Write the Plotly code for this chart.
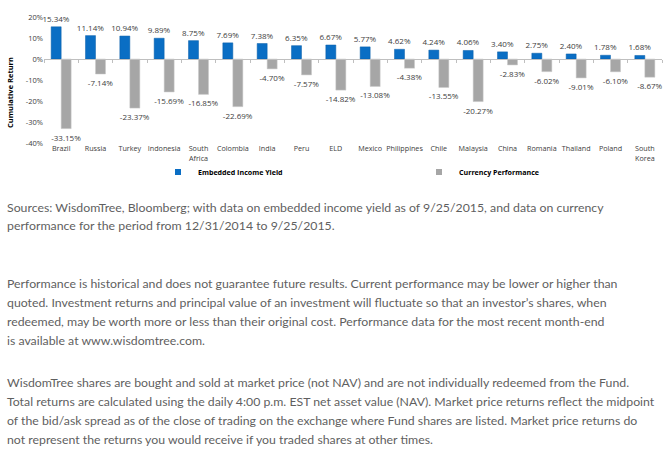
import plotly.graph_objects as go

# ---------------- data ----------------
categories = ["Brazil", "Russia", "Turkey", "Indonesia", "South<br>Africa", "Colombia",
              "India", "Peru", "ELD", "Mexico", "Philippines", "Chile", "Malaysia",
              "China", "Romania", "Thailand", "Poland", "South<br>Korea"]
embedded_income_yield = [15.34, 11.14, 10.94, 9.89, 8.75, 7.69, 7.38, 6.35, 6.67,
                         5.77, 4.62, 4.24, 4.06, 3.40, 2.75, 2.40, 1.78, 1.68]
currency_performance = [-33.15, -7.14, -23.37, -15.69, -16.85, -22.69, -4.70, -7.57, -14.82,
                        -13.08, -4.38, -13.55, -20.27, -2.83, -6.02, -9.01, -6.10, -8.67]
y_tick_values = [20, 10, 0, -10, -20, -30, -40]
y_tick_labels = ["20%", "10%", "0%", "-10%", "-20%", "-30%", "-40%"]
series_names = ["Embedded Income Yield", "Currency Performance"]
y_axis_title = "Cumulative Return"

footnote_lines = [
    "Sources: WisdomTree, Bloomberg; with data on embedded income yield as of 9/25/2015, and data on currency",
    "performance for the period from 12/31/2014 to 9/25/2015.",
    "Performance is historical and does not guarantee future results. Current performance may be lower or higher than",
    "quoted. Investment returns and principal value of an investment will fluctuate so that an investor\u2019s shares, when",
    "redeemed, may be worth more or less than their original cost. Performance data for the most recent month-end",
    "is available at www.wisdomtree.com.",
    "WisdomTree shares are bought and sold at market price (not NAV) and are not individually redeemed from the Fund.",
    "Total returns are calculated using the daily 4:00 p.m. EST net asset value (NAV). Market price returns reflect the midpoint",
    "of the bid/ask spread as of the close of trading on the exchange where Fund shares are listed. Market price returns do",
    "not represent the returns you would receive if you traded shares at other times.",
]
footnote_y_px = [207, 226, 283, 302, 321, 340, 382, 401, 420, 439]

# ---------------- layout constants ----------------
W, H = 670, 458
L, R, T, B = 44, 662, 17, 143
BLUE = "#0A6EC4"
GREY = "#A6A6A6"
TXT = "#404040"
CHART_FONT = "Open Sans, Noto Sans, sans-serif"
PARA_FONT = "Lato, Liberation Sans, sans-serif"


def px_x(px):
    return (px - L) / (R - L)


def px_y(py):
    return (B - py) / (B - T)


fig = go.Figure()
fig.add_trace(go.Bar(
    x=categories, y=embedded_income_yield, name=series_names[0],
    marker=dict(color=BLUE, line=dict(color="#0A5FA8", width=0.5)),
    texttemplate="%{y:.2f}%", textposition="outside", constraintext="none",
    textfont=dict(size=8, color=TXT, family=CHART_FONT),
    cliponaxis=False, showlegend=False,
))
fig.add_trace(go.Bar(
    x=categories, y=currency_performance, name=series_names[1],
    marker=dict(color=GREY, line=dict(color="#C8C8C8", width=0.5)),
    texttemplate="%{y:.2f}%", textposition="outside", constraintext="none",
    textfont=dict(size=8, color=TXT, family=CHART_FONT),
    cliponaxis=False, showlegend=False,
))
# legend entries (small square markers like the original), one legend box each
for nm, col, lg in zip(series_names, [BLUE, GREY], ["legend", "legend2"]):
    fig.add_trace(go.Scatter(x=[None], y=[None], mode="markers", name=nm, legend=lg,
                             marker=dict(symbol="square", size=6, color=col),
                             hoverinfo="skip"))
# helper trace so the zero-line axis is drawn
fig.add_trace(go.Scatter(x=[None], y=[None], xaxis="x2", showlegend=False, hoverinfo="skip"))

annotations = [dict(
    text="<b>" + y_axis_title + "</b>", textangle=-90, xref="paper", yref="paper",
    x=px_x(10), y=px_y(93), xanchor="center", yanchor="middle", showarrow=False,
    font=dict(family=CHART_FONT, size=7.5, color="#000000"),
)]
for txt, py in zip(footnote_lines, footnote_y_px):
    annotations.append(dict(
        text=txt, xref="paper", yref="paper", x=px_x(5), y=px_y(py),
        xanchor="left", yanchor="middle", showarrow=False, align="left",
        font=dict(family=PARA_FONT, size=12.3, color="#5F5F5F"),
    ))

legend_common = dict(orientation="h", xref="container", yref="container",
                     xanchor="left", y=1 - 172 / H, yanchor="middle", itemwidth=30,
                     font=dict(size=7.1, color="#000000", family=CHART_FONT, weight="bold"),
                     bgcolor="rgba(0,0,0,0)")

fig.update_layout(
    width=W, height=H,
    margin=dict(l=L, r=W - R, t=T, b=H - B, pad=0, autoexpand=False),
    paper_bgcolor="white", plot_bgcolor="white",
    barmode="group", bargap=0.417, bargroupgap=0,
    font=dict(family=CHART_FONT, size=8, color=TXT),
    showlegend=True,
    legend=dict(x=158 / W, **legend_common),
    legend2=dict(x=419 / W, **legend_common),
    xaxis=dict(type="category", showgrid=False, showline=False, ticks="", tickangle=0,
               tickfont=dict(size=7.2, color=TXT), automargin=False, fixedrange=True),
    xaxis2=dict(overlaying="x", anchor="free", position=2 / 3, side="bottom",
                range=[-0.5, 17.5], tickvals=[i - 0.5 for i in range(19)],
                showticklabels=False, ticks="outside", ticklen=3, tickcolor="#BFBFBF",
                showline=True, linecolor="#BFBFBF", linewidth=1, showgrid=False,
                zeroline=False, fixedrange=True),
    yaxis=dict(range=[-40, 20], tickvals=y_tick_values, ticktext=y_tick_labels,
               showgrid=False, zeroline=False, showline=False, ticks="",
               tickfont=dict(size=7.5, color=TXT), automargin=False,
               fixedrange=True),
    annotations=annotations,
)

fig.write_html("out.html")
